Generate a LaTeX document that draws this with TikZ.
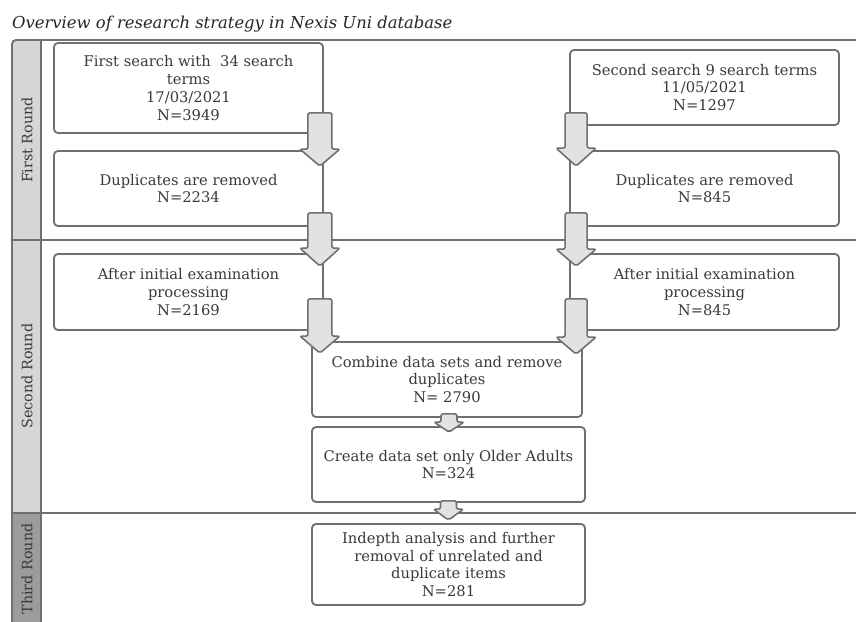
\documentclass[tikz,border=0pt]{standalone}
\usepackage{fontspec}
\setmainfont{DejaVu Serif}
\usepackage{xcolor}
\usetikzlibrary{calc}

\definecolor{linegray}{HTML}{707070}
\definecolor{textgray}{HTML}{3A3A3A}
\definecolor{lanefill}{HTML}{D6D6D6}
\definecolor{lanedark}{HTML}{9C9C9C}
\definecolor{arrowfill}{HTML}{E2E2E2}

\tikzset{
  box/.style={draw=linegray, line width=1.8pt, rounded corners=4pt, fill=white, align=center,
    text=textgray, font=\fontsize{14.7}{17.7}\selectfont, inner sep=2pt},
  blockarrow/.style={draw=linegray, fill=arrowfill, line width=1.6pt, rounded corners=2pt, line join=round},
  lane/.style={draw=linegray, line width=1.8pt},
  lanelabel/.style={rotate=90, text=textgray, font=\fontsize{14.3}{16}\selectfont}
}

% fat down arrow: start, tip, shaft half width, head half width, head length
\newcommand{\bigarrow}[5]{%
  \draw[blockarrow] let \p1=#1, \p2=#2 in
    (\x1-#3pt,\y1) -- (\x1+#3pt,\y1) -- (\x1+#3pt,\y2+#5pt) -- (\x1+#4pt,\y2+#5pt)
    -- (\x1,\y2) -- (\x1-#4pt,\y2+#5pt) -- (\x1-#3pt,\y2+#5pt) -- cycle;}

\begin{document}
\begin{tikzpicture}[x=1pt, y=-1pt]
  \useasboundingbox (0,0) rectangle (856,621);
  \fill[white] (0,0) rectangle (856,621);

  \node[anchor=base west, font=\fontsize{16.4}{18}\selectfont\itshape, text=black!85, inner sep=0pt] (title) at (12,28) {Overview of research strategy in Nexis Uni database};

  % lanes
  \fill[lanefill] (12,40) rectangle (41,513);
  \fill[lanedark] (12,513) rectangle (41,625);
  \draw[lane] (856,40) -- (16,40) to[out=180, in=90] (12,44) -- (12,625);
  \draw[lane] (41,40) -- (41,625);
  \draw[lane] (12,240) -- (856,240);
  \draw[lane] (12,513) -- (856,513);
  \node[lanelabel] (round1) at (27,140) {First Round};
  \node[lanelabel] (round2) at (27,376) {Second Round};
  \node[lanelabel] (round3) at (27,569) {Third Round};

  % left column
  \node[box, minimum width=269pt, minimum height=90pt] (first1) at (188.5,88) {First search with~~34 search\\terms\\17/03/2021\\N=3949};
  \node[box, minimum width=269pt, minimum height=75pt] (dup1) at (188.5,188.5) {Duplicates are removed\\N=2234};
  \node[box, minimum width=269pt, minimum height=76pt] (exam1) at (188.5,292) {After initial examination\\processing\\N=2169};

  % right column
  \node[box, minimum width=269pt, minimum height=75pt] (first2) at (704.5,87.5) {Second search 9 search terms\\11/05/2021\\N=1297};
  \node[box, minimum width=269pt, minimum height=75pt] (dup2) at (704.5,188.5) {Duplicates are removed\\N=845};
  \node[box, minimum width=269pt, minimum height=76pt] (exam2) at (704.5,292) {After initial examination\\processing\\N=845};

  % middle column
  \node[box, minimum width=270pt, minimum height=75pt] (combine) at (447,379.5) {Combine data sets and remove\\duplicates\\N= 2790};
  \node[box, minimum width=273pt, minimum height=75pt] (older) at (448.5,464.5) {Create data set only Older Adults\\N=324};
  \node[box, minimum width=273pt, minimum height=81pt] (indepth) at (448.5,564.5) {Indepth analysis and further\\removal of unrelated and\\duplicate items\\N=281};

  % arrows
  \bigarrow{($(first1.south east)+(-4,-21)$)}{($(dup1.north east)+(-4,16)$)}{12}{20}{17}
  \bigarrow{($(dup1.south east)+(-4,-14)$)}{($(exam1.north east)+(-4,13)$)}{12}{20}{18}
  \bigarrow{($(exam1.south east)+(-4,-32)$)}{($(combine.north west)+(7,12)$)}{12}{20}{17}
  \bigarrow{($(first2.south west)+(7,-13)$)}{($(dup2.north west)+(7,16)$)}{11}{20}{18}
  \bigarrow{($(dup2.south west)+(7,-14)$)}{($(exam2.north west)+(7,13)$)}{11}{20}{17}
  \bigarrow{($(exam2.south west)+(7,-32)$)}{($(combine.north east)+(-5,13)$)}{11}{20}{17}
  \bigarrow{($(combine.south)+(2,-4)$)}{($(older.north)+(0,6)$)}{8}{15}{10}
  \bigarrow{($(older.south)+(0,-2)$)}{($(indepth.north)+(0,-3)$)}{8}{15}{11}
\end{tikzpicture}
\end{document}
